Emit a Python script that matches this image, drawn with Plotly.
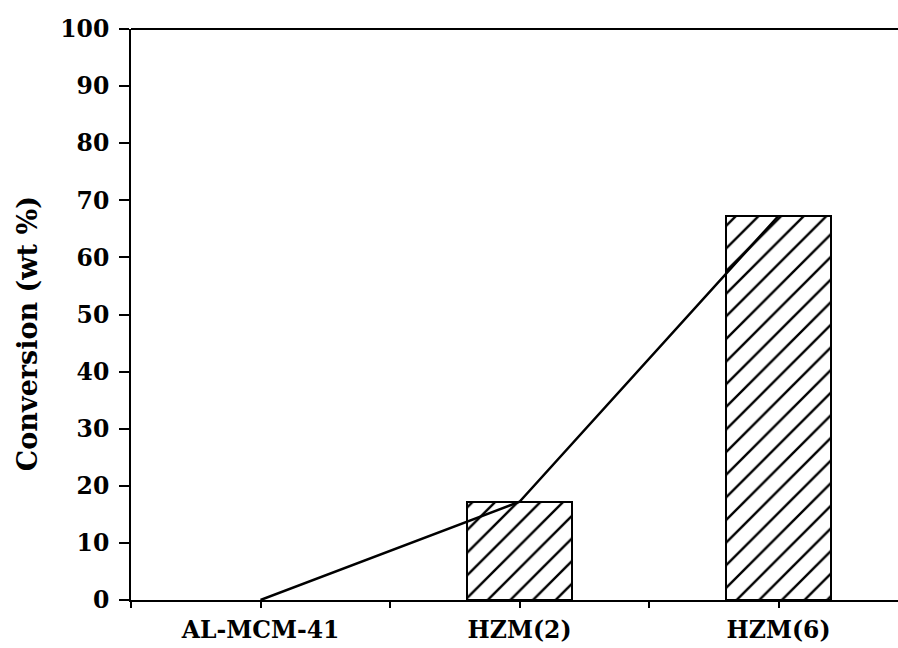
import plotly.graph_objects as go

# Catalyst conversion data
categories = ["AL-MCM-41", "HZM(2)", "HZM(6)"]
conversion = [0.0, 17.2, 67.3]
y_ticks = [0, 10, 20, 30, 40, 50, 60, 70, 80, 90, 100]
y_minor_ticks = [5, 15, 25, 35, 45, 55, 65, 75, 85, 95]

x_pos = list(range(len(categories)))
font_family = "DejaVu Serif"

# x ticks at each category plus unlabeled ticks halfway between them
x_tickvals, x_ticktext = [], []
for i, c in zip(x_pos, categories):
    x_tickvals += [i - 0.5, i]
    x_ticktext += ["", f"<b>{c}</b>"]

fig = go.Figure()

# hatched bars; an empty bar gets no outline
fig.add_trace(go.Bar(
    x=x_pos,
    y=conversion,
    width=0.405,
    marker=dict(
        color="white",
        line=dict(color="black", width=[2 if v > 0 else 0 for v in conversion]),
        pattern=dict(shape="/", fgcolor="black", bgcolor="white", fgopacity=1,
                     size=16, solidity=0.15),
    ),
    showlegend=False,
))

# trend line through bar tops
fig.add_trace(go.Scatter(
    x=x_pos,
    y=conversion,
    mode="lines",
    line=dict(color="black", width=2.5),
    showlegend=False,
))

fig.update_layout(
    width=898,
    height=648,
    margin=dict(l=131, r=0, t=29, b=48),
    paper_bgcolor="white",
    plot_bgcolor="white",
    font=dict(family=font_family, color="black", size=23),
    bargap=0,
    shapes=[dict(type="line", xref="paper", yref="paper", x0=0, x1=1, y0=1, y1=1,
                 line=dict(color="black", width=2))],
    annotations=[dict(
        text="<b>Conversion (wt %)</b>",
        xref="paper", yref="paper", x=-0.134, y=0.466,
        xanchor="center", yanchor="middle", textangle=-90, showarrow=False,
        font=dict(family=font_family, size=27, color="black"),
    )],
    xaxis=dict(
        range=[-0.5, 2.461],
        tickmode="array",
        tickvals=x_tickvals,
        ticktext=x_ticktext,
        ticks="outside",
        ticklen=6,
        tickwidth=2,
        tickcolor="black",
        ticklabelstandoff=2,
        showline=True,
        linecolor="black",
        linewidth=2,
        showgrid=False,
        zeroline=False,
        tickfont=dict(family=font_family, size=23.5, color="black"),
    ),
    yaxis=dict(
        range=[0, 100],
        tickmode="array",
        tickvals=y_ticks,
        ticktext=[f"<b>{v}</b>" for v in y_ticks],
        ticks="outside",
        ticklen=10,
        tickwidth=2,
        tickcolor="black",
        ticklabelstandoff=5,
        showline=True,
        linecolor="black",
        linewidth=2,
        showgrid=False,
        zeroline=False,
        tickfont=dict(family=font_family, size=23.5, color="black"),
    ),
    # overlay axis carrying the short unlabeled ticks between the main y ticks
    yaxis2=dict(
        overlaying="y", side="left", range=[0, 100],
        tickmode="array", tickvals=y_minor_ticks, ticktext=["" for _ in y_minor_ticks],
        ticks="outside", ticklen=5, tickwidth=2, tickcolor="black",
        showline=False, showgrid=False, zeroline=False,
    ),
)

fig.write_html("out.html")
